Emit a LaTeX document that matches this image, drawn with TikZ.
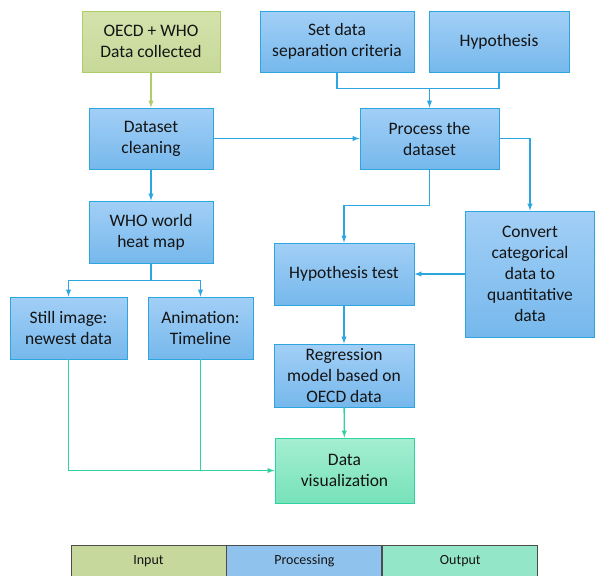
\documentclass[tikz,border=0pt]{standalone}
\usepackage{fontspec}
\setmainfont{Carlito}
\usetikzlibrary{shapes,arrows,positioning,calc}
\definecolor{procblue}{RGB}{45,165,222}
\definecolor{proctop}{RGB}{162,207,246}
\definecolor{procbot}{RGB}{118,184,236}
\definecolor{inputgreen}{RGB}{176,204,104}
\definecolor{inputtop}{RGB}{212,226,172}
\definecolor{inputbot}{RGB}{199,217,153}
\definecolor{outteal}{RGB}{48,210,160}
\definecolor{outtop}{RGB}{165,238,210}
\definecolor{outbot}{RGB}{118,226,186}
\definecolor{legin}{RGB}{199,216,157}
\definecolor{legproc}{RGB}{143,195,238}
\definecolor{legout}{RGB}{148,230,200}
\definecolor{textgray}{RGB}{20,20,20}

\begin{document}
\begin{tikzpicture}[x=1pt, y=-1pt,
  procbox/.style={draw=procblue, line width=0.9pt, top color=proctop, bottom color=procbot,
    align=center, inner sep=1pt, text=textgray, font=\fontsize{17.5}{21}\selectfont},
  inbox/.style={procbox, draw=inputgreen, top color=inputtop, bottom color=inputbot},
  outbox/.style={procbox, draw=outteal, top color=outtop, bottom color=outbot},
  legbox/.style={draw=black!70, line width=0.9pt, minimum width=155, minimum height=32,
    inner sep=0pt, text=textgray, font=\fontsize{14}{16}\selectfont},
  bline/.style={procblue, line width=1.4pt},
  barrow/.style={bline, -latex},
  garrow/.style={inputgreen, line width=1.4pt, -latex},
  tline/.style={outteal, line width=1.4pt},
  tarrow/.style={tline, -latex}]
  \useasboundingbox (0,0) rectangle (595,576);

  % top row
  \node[inbox, minimum width=138, minimum height=61] (collected) at (151,41.5) {OECD + WHO\\Data collected};
  \node[procbox, minimum width=154, minimum height=61] (criteria) at (337,41.5) {Set data\\separation criteria};
  \node[procbox, minimum width=140, minimum height=61] (hypo) at (499,41.5) {Hypothesis};

  % left branch
  \node[procbox, minimum width=124, minimum height=61] (cleaning) at (151,138.5) {Dataset\\cleaning};
  \node[procbox, minimum width=124, minimum height=62] (heatmap) at (151,232) {WHO world\\heat map};
  \node[procbox, minimum width=117, minimum height=62] (still) at (68.5,328) {Still image:\\newest data};
  \node[procbox, minimum width=105, minimum height=62] (anim) at (200.5,328) {Animation:\\Timeline};

  % right branch
  \node[procbox, minimum width=139, minimum height=61] (process) at (429.5,138.5) {Process the\\dataset};
  \node[procbox, minimum width=129, minimum height=126] (convert) at (530,274) {Convert\\categorical\\data to\\quantitative\\data};
  \node[procbox, minimum width=140, minimum height=62] (hyptest) at (344,274) {Hypothesis test};
  \node[procbox, minimum width=140, minimum height=63] (regress) at (344,375.5) {Regression\\model based on\\OECD data};
  \node[outbox, minimum width=139, minimum height=65] (datavis) at (344.5,470.5) {Data\\visualization};

  % connectors
  \draw[garrow] (collected) -- (cleaning);
  \coordinate (merge) at ($(process.north)+(0,-19)$);
  \draw[bline] (criteria.south) |- (merge) -| (hypo.south);
  \draw[barrow] (merge) -- (process.north);
  \draw[barrow] (cleaning.east) -- (process.west);
  \draw[barrow] (cleaning) -- (heatmap);
  \draw[barrow] (heatmap.south) -- ++(0,17) coordinate (split) -| (still.north);
  \draw[barrow] (split) -| (anim.north);
  \draw[barrow] (process.south) -- ++(0,36) -| (hyptest.north);
  \draw[barrow] (process.east) -| (convert.north);
  \draw[barrow] (convert.west) -- (hyptest.east);
  \draw[barrow] (hyptest) -- (regress);
  \draw[tarrow] (regress) -- (datavis);
  \draw[tarrow] (still.south) |- (datavis.west);
  \draw[tline] (anim.south) -- (anim.south |- datavis.west);

  % legend
  \node[legbox, fill=legin] (leginput) at (148.5,561) {Input};
  \node[legbox, fill=legproc, right=0pt of leginput] (legprocess) {Processing};
  \node[legbox, fill=legout, right=0pt of legprocess] (legoutput) {Output};
\end{tikzpicture}
\end{document}
